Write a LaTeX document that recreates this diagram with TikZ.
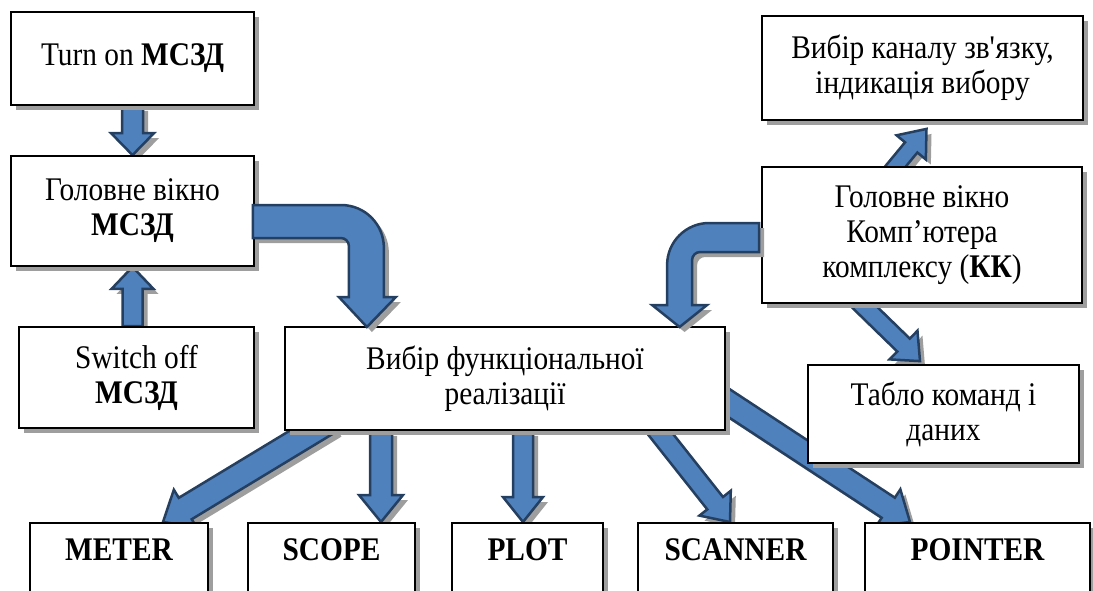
\documentclass[tikz,border=0pt]{standalone}
\usepackage{fontspec}
\setmainfont{Liberation Serif}[FakeStretch=0.89]
\usetikzlibrary{calc,shadows}
\pgfdeclarelayer{back}
\pgfsetlayers{back,main}
\definecolor{arrfill}{HTML}{4F81BD}
\definecolor{arrline}{HTML}{243F60}
\tikzset{
  hatch/.style={general shadow={fill=black!38, shadow xshift=5pt, shadow yshift=-5pt}},
  box/.style={draw, line width=1.8pt, fill=white, inner sep=0pt, align=center, hatch,
    font=\fontsize{33}{35}\selectfont},
  lowbox/.style={box, font=\fontsize{33}{35}\selectfont\bfseries,
    text height=38pt, text depth=62pt, anchor=north},
  blockarr/.style={fill=arrfill, draw=arrline, line width=2.5pt, line join=miter, hatch}
}
% block arrow: from, to, half shaft, half head, head length
\newcommand\blockarrow[5]{%
  \coordinate (ba-h) at ($(#2)!#5!(#1)$);
  \draw[blockarr] ($(#1)!#3!90:(#2)$) -- ($(ba-h)!#3!90:(#2)$) -- ($(ba-h)!#4!90:(#2)$)
    -- (#2) -- ($(ba-h)!#4!-90:(#2)$) -- ($(ba-h)!#3!-90:(#2)$) -- ($(#1)!#3!-90:(#2)$) -- cycle;
}

\begin{document}
\begin{tikzpicture}[x=1pt, y=-1pt]
  \useasboundingbox (0,0) rectangle (1093,590);

  % left column
  \node[box, minimum width=243pt, minimum height=93pt] (turnon) at (132.5,58.5) {Turn on \textbf{МСЗД}};
  \node[box, minimum width=243pt, minimum height=110pt] (glavm) at (132.5,211) {Головне вікно\\\textbf{МСЗД}};
  \node[box, minimum width=235pt, minimum height=101pt] (switch) at (136.5,377.5) {Switch off\\\textbf{МСЗД}};

  \node[box, minimum width=440pt, minimum height=103pt] (func) at (505,378.5) {Вибір функціональної\\реалізації};

  % right column
  \node[box, minimum width=321pt, minimum height=104pt] (kanal) at (922.5,68)
    {Вибір каналу зв\textquotesingle язку,\\індикація вибору};
  \node[box, minimum width=320pt, minimum height=136pt] (glavk) at (922,235) {Головне вікно\\Комп’ютера\\комплексу (\textbf{КК})};
  \node[box, minimum width=271pt, minimum height=98pt] (tablo) at (943.5,414) {Табло команд і\\даних};

  % bottom row
  \node[lowbox, minimum width=178pt] (meter) at (119,522) {METER};
  \node[lowbox, minimum width=167pt] (scope) at (331.5,522) {SCOPE};
  \node[lowbox, minimum width=151pt] (plot) at (527.5,522) {PLOT};
  \node[lowbox, minimum width=195pt] (scanner) at (735.5,522) {SCANNER};
  \node[lowbox, minimum width=225pt] (pointer) at (977.5,522) {POINTER};

  \coordinate (sw-up) at (switch.north -| glavm.south);
  \coordinate (k-tail) at ($(glavk.north)+(-37,13)$);
  \coordinate (k-tip) at ($(kanal.south)+(4,8)$);
  \coordinate (t-tail) at ($(glavk.south)+(-70,-9)$);
  \coordinate (t-tip) at ($(tablo.north)+(-23.5,-3)$);
  \coordinate (m-tail) at ($(func.south)+(-175,-10)$);
  \coordinate (m-tip) at ($(meter.north)+(44,0)$);
  \coordinate (s-tail) at ($(func.south)+(-124,0)$);
  \coordinate (s-tip) at ($(scope.north)+(49.5,0)$);
  \coordinate (p-tail) at ($(func.south)+(18,0)$);
  \coordinate (p-tip) at ($(plot.north)+(-4.5,0)$);
  \coordinate (c-tail) at ($(func.south)+(145,-10)$);
  \coordinate (c-tip) at ($(scanner.north)+(-5.5,0)$);
  \coordinate (r-tail) at ($(func.east)+(-10,16)$);
  \coordinate (r-tip) at ($(pointer.north)+(-67.5,0)$);

  \begin{pgfonlayer}{back}
    \blockarrow{turnon.south}{glavm.north}{10.5pt}{21.5pt}{22pt}
    \blockarrow{sw-up}{glavm.south}{10pt}{21pt}{22pt}
    \blockarrow{k-tail}{k-tip}{8pt}{19pt}{24pt}
    \blockarrow{t-tail}{t-tip}{9pt}{20pt}{23pt}
    \blockarrow{m-tail}{m-tip}{12.5pt}{22pt}{26pt}
    \blockarrow{s-tail}{s-tip}{11pt}{22pt}{27pt}
    \blockarrow{p-tail}{p-tip}{10pt}{20pt}{25pt}
    \blockarrow{c-tail}{c-tip}{10pt}{20pt}{24pt}
    \blockarrow{r-tail}{r-tip}{12pt}{22pt}{26pt}
  \end{pgfonlayer}

  % bent arrows into func
  \draw[blockarr] ($(glavm.east)+(-2,-6)$) -- ++(88,0)
    .. controls +(24,0) and +(0,-24) .. ++(43,43) -- ++(0,49) -- ++(12,0)
    -- ++(-29,30) -- ++(-28,-30) -- ++(10,0) -- ++(0,-51)
    .. controls +(0,-4.4) and +(4.4,0) .. ++(-8,-8) -- ++(-88,0) -- cycle;
  \draw[blockarr] ($(glavk.west)+(-2,-12)$) -- ++(-50,0)
    .. controls +(-23.2,0) and +(0,-23.2) .. ++(-42,42) -- ++(0,40) -- ++(-15,0)
    -- ++(27.5,22) -- ++(27.5,-22) -- ++(-15,0) -- ++(0,-45)
    .. controls +(0,-4.4) and +(-4.4,0) .. ++(8,-8) -- ++(59,0) -- cycle;
\end{tikzpicture}
\end{document}
